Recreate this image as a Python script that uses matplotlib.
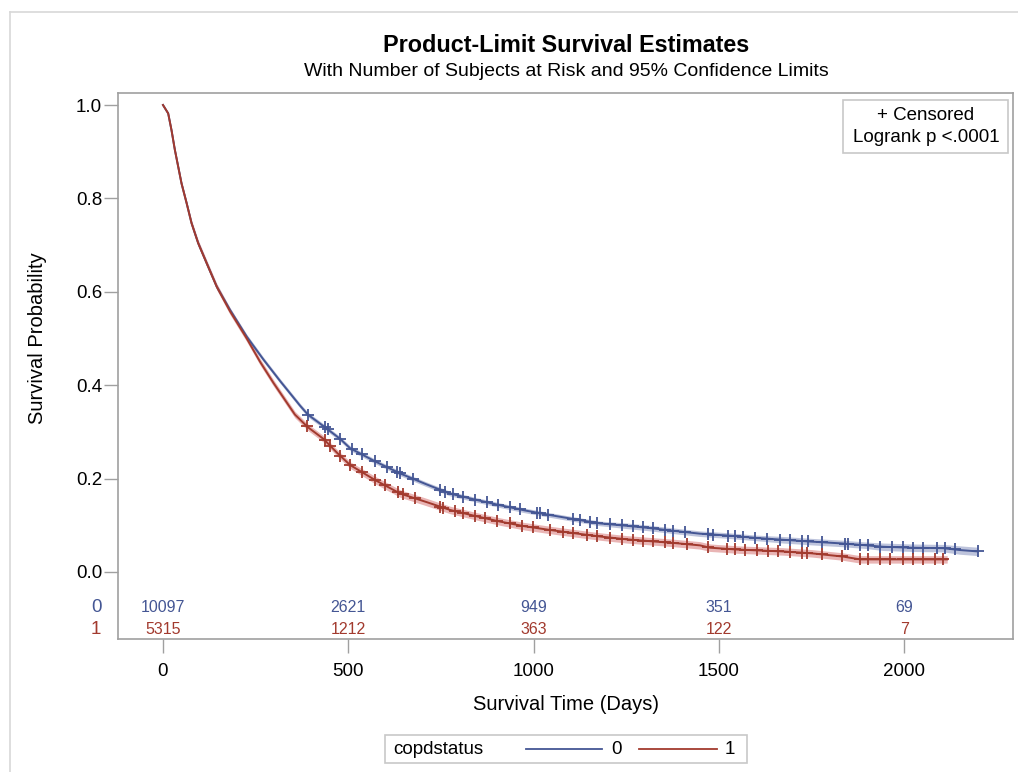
import numpy as np
import matplotlib
matplotlib.use("Agg")
import matplotlib.pyplot as plt
from matplotlib.lines import Line2D
from matplotlib.patches import Rectangle
from matplotlib.transforms import blended_transform_factory

plt.rcParams['font.family'] = ['Liberation Sans', 'DejaVu Sans']

# ---------------- data ----------------
groups = ["0", "1"]
legend_title = "copdstatus"

days0 = [0, 14, 23, 32, 41, 50, 64, 77, 95, 118, 145, 181, 226, 271, 316, 370, 391, 437, 478, 505,
         572, 640, 710, 774, 842, 909, 975, 1044, 1110, 1179, 1250, 1314, 1380, 1449, 1525, 1600,
         1673, 1750, 1835, 1900, 1943, 2020, 2105, 2150, 2199]
surv0 = [1.0, 0.982, 0.946, 0.904, 0.868, 0.832, 0.789, 0.747, 0.704, 0.661, 0.611, 0.561, 0.504,
         0.455, 0.409, 0.356, 0.337, 0.31, 0.285, 0.265, 0.237, 0.211, 0.188, 0.168, 0.155, 0.143,
         0.132, 0.122, 0.113, 0.104, 0.099, 0.094, 0.088, 0.082, 0.078, 0.073, 0.069, 0.065, 0.061,
         0.057, 0.054, 0.052, 0.051, 0.047, 0.044]
ci_half0 = [0.0, 0.002, 0.003, 0.003, 0.004, 0.004, 0.004, 0.004, 0.005, 0.005,
            0.005, 0.005, 0.005, 0.005, 0.005, 0.005, 0.005, 0.005, 0.005, 0.005,
            0.005, 0.005, 0.005, 0.005, 0.005, 0.005, 0.005, 0.005, 0.005, 0.005,
            0.006, 0.006, 0.006, 0.006, 0.006, 0.006, 0.007, 0.007, 0.007, 0.007,
            0.008, 0.008, 0.008, 0.009, 0.009]

days1 = [0, 14, 23, 32, 41, 50, 64, 77, 95, 118, 145, 181, 226, 262, 298, 356, 391, 433, 470, 505,
         572, 640, 710, 774, 842, 909, 975, 1044, 1110, 1179, 1250, 1314, 1380, 1449, 1476, 1550,
         1673, 1750, 1835, 1881, 2116]
surv1 = [1.0, 0.982, 0.946, 0.904, 0.868, 0.832, 0.789, 0.747, 0.704, 0.661, 0.611, 0.558, 0.5,
         0.45, 0.405, 0.337, 0.31, 0.285, 0.255, 0.229, 0.197, 0.168, 0.15, 0.133, 0.12, 0.108,
         0.098, 0.09, 0.083, 0.076, 0.07, 0.066, 0.062, 0.057, 0.052, 0.048, 0.044, 0.04, 0.033,
         0.027, 0.027]
ci_half1 = [0.0, 0.003, 0.004, 0.005, 0.005, 0.006, 0.006, 0.007, 0.007, 0.007,
            0.007, 0.007, 0.007, 0.007, 0.007, 0.007, 0.007, 0.007, 0.007, 0.007,
            0.008, 0.008, 0.008, 0.008, 0.008, 0.008, 0.008, 0.008, 0.008, 0.008,
            0.008, 0.008, 0.008, 0.008, 0.008, 0.008, 0.008, 0.008, 0.008, 0.008,
            0.008]

censor0 = [391, 437, 445, 478, 510, 537, 572, 604, 631, 640, 675, 747, 761, 783, 810, 842, 874, 904,
           936, 963, 1009, 1017, 1039, 1106, 1125, 1152, 1171, 1206, 1239, 1268, 1295, 1322, 1355,
           1376, 1408, 1471, 1484, 1525, 1543, 1565, 1597, 1630, 1665, 1692, 1724, 1740, 1778, 1840,
           1848, 1881, 1902, 1935, 1967, 1997, 2024, 2051, 2088, 2110, 2137, 2199]
censor1 = [388, 437, 451, 478, 505, 537, 572, 599, 634, 648, 680, 747, 755, 788, 810, 842, 869, 901,
           936, 969, 998, 1044, 1079, 1106, 1144, 1171, 1206, 1239, 1268, 1295, 1322, 1355, 1376,
           1414, 1471, 1522, 1543, 1570, 1603, 1632, 1659, 1692, 1724, 1738, 1778, 1832, 1881, 1902,
           1935, 1962, 1997, 2024, 2051, 2083, 2105]

risk_days = [0, 500, 1000, 1500, 2000]
risk0 = [10097, 2621, 949, 351, 69]
risk1 = [5315, 1212, 363, 122, 7]

x_ticks = [0, 500, 1000, 1500, 2000]
y_ticks = [0.0, 0.2, 0.4, 0.6, 0.8, 1.0]

title = "Product-Limit Survival Estimates"
subtitle = "With Number of Subjects at Risk and 95% Confidence Limits"
xlabel = "Survival Time (Days)"
ylabel = "Survival Probability"
inset_lines = ["+ Censored", "Logrank p <.0001"]

# ---------------- styling ----------------
W, H = 1018, 772
line_colors = ["#445694", "#A23A2E"]
band_colors = ["#6F7EB3", "#D05B5B"]
frame_col = "#A0A0A0"

fig = plt.figure(figsize=(W / 100, H / 100), dpi=100)

def fx(px):
    return px / W

def fy(py):
    return 1 - py / H

ax = fig.add_axes([fx(118), fy(639), fx(1013) - fx(118), fy(93) - fy(639)])
ax.set_xlim(-121.4, 2293.6)
ax.set_ylim(-0.1435, 1.0257)

series = [(days0, surv0, ci_half0, censor0), (days1, surv1, ci_half1, censor1)]
for i, (d, s, h, c) in enumerate(series):
    d = np.asarray(d, float)
    s = np.asarray(s, float)
    h = np.asarray(h, float)
    ax.fill_between(d, s - h, s + h, color=band_colors[i], alpha=0.45, lw=0, zorder=2)
for i, (d, s, h, c) in enumerate(series):
    d = np.asarray(d, float)
    s = np.asarray(s, float)
    ax.plot(d, s, color=line_colors[i], lw=1.4, zorder=3)
    cy = np.interp(c, d, s)
    ax.plot(c, cy, ls="none", marker="+", ms=8.5, mew=1.3, color=line_colors[i], zorder=4)

# at-risk table inside the plot
risk_y = [-0.075, -0.124]
lab_tr = blended_transform_factory(fig.transFigure, ax.transData)
for i, r in enumerate([risk0, risk1]):
    for xd, v in zip(risk_days, r):
        ax.text(xd, risk_y[i], str(v), color=line_colors[i], fontsize=11.5,
                ha="center", va="center")
    ax.text(fx(96), risk_y[i], groups[i], color=line_colors[i], fontsize=13.5,
            ha="center", va="center", transform=lab_tr)

ax.set_xticks(x_ticks)
ax.set_xticklabels([str(t) for t in x_ticks])
ax.set_yticks(y_ticks)
ax.set_yticklabels([f"{t:.1f}" for t in y_ticks])
ax.tick_params(axis="both", length=10, width=1, color=frame_col, labelsize=13.5, labelcolor="black")
ax.tick_params(axis="x", pad=7)
ax.tick_params(axis="y", pad=1.5)
for sp in ax.spines.values():
    sp.set_color(frame_col)
    sp.set_linewidth(1.2)

# titles and axis labels
fig.text(fx(566), fy(45), title, ha="center", va="center", fontsize=16.8, fontweight="bold")
fig.text(fx(566), fy(72), subtitle, ha="center", va="center", fontsize=14)
fig.text(fx(566), fy(705), xlabel, ha="center", va="center", fontsize=14.5)
fig.text(fx(38), fy(338), ylabel, ha="center", va="center", fontsize=14.5, rotation=90)

# inset box (top right)
fig.add_artist(Rectangle((fx(843), fy(153)), fx(1008) - fx(843), fy(100) - fy(153),
                         transform=fig.transFigure, fill=False, ec="#C8C8C8", lw=1.2))
fig.text(fx(926), fy(115), inset_lines[0], ha="center", va="center", fontsize=13.5)
fig.text(fx(926), fy(138), inset_lines[1], ha="center", va="center", fontsize=13.5)

# bottom legend
fig.add_artist(Rectangle((fx(385), fy(763)), fx(747) - fx(385), fy(735) - fy(763),
                         transform=fig.transFigure, fill=False, ec="#C8C8C8", lw=1.2))
fig.text(fx(393), fy(749), legend_title, ha="left", va="center", fontsize=13.5)
seg = [(526, 602, 617), (639, 717, 730)]
for i, (a, b, t) in enumerate(seg):
    fig.add_artist(Line2D([fx(a), fx(b)], [fy(749), fy(749)], transform=fig.transFigure,
                          color=line_colors[i], lw=1.3))
    fig.text(fx(t), fy(749), groups[i], ha="center", va="center", fontsize=13.5)

# outer border (left and top visible)
fig.add_artist(Line2D([fx(10), fx(10)], [fy(12), fy(772)], transform=fig.transFigure,
                      color="#D8D8D8", lw=1.2))
fig.add_artist(Line2D([fx(10), fx(1018)], [fy(12), fy(12)], transform=fig.transFigure,
                      color="#D8D8D8", lw=1.2))

fig.savefig("out.png", dpi=100)
